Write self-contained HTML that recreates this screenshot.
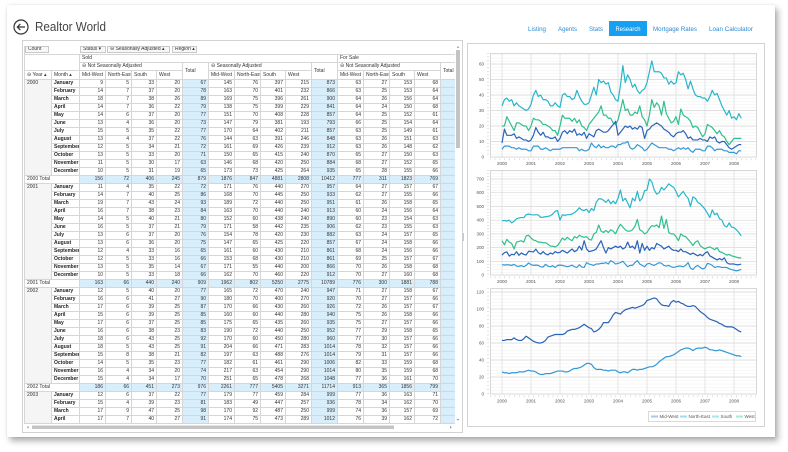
<!DOCTYPE html>
<html><head><meta charset="utf-8">
<style>
html,body{margin:0;padding:0;}
body{width:788px;height:452px;overflow:hidden;background:#fff;position:relative;font-family:"Liberation Sans",Arial,sans-serif;}
#card{position:absolute;left:7px;top:5px;width:768px;height:432px;background:#fff;box-shadow:3px 4px 6px rgba(0,0,0,.32),0 0 2px rgba(0,0,0,.12);}
#svg{position:absolute;left:0;top:0;}
#tbox{position:absolute;left:22px;top:40px;width:439px;height:391px;border:1px solid #d2d2d2;}
#clip{position:absolute;left:24px;top:46px;width:431px;height:378px;overflow:hidden;}
table{border-collapse:separate;border-spacing:0;table-layout:fixed;width:443px;border-left:1px solid #d6d6d6;font-size:5px;color:#333;font-family:"Liberation Sans","DejaVu Sans",sans-serif;}
tr{height:8px;}
td{padding:0 2px 0 1px;border-right:1px solid #d6d6d6;border-bottom:1px solid #d6d6d6;line-height:7px;text-align:right;white-space:nowrap;overflow:hidden;}
col.bc{background:#d9eefb;}
.h1{height:9px;}
.h1 td{background:#fff;border-right:0;}
.hd td{background:#fff;text-align:left;padding-left:2px;}
.hd td.tt{vertical-align:middle;}
.m{text-align:left;font-weight:bold;background:#fff;padding-left:2px;color:#222;}
.y{text-align:left;vertical-align:top;padding-left:2px;}
.T td{background:#d9eefb;}
.T td.tl{background:#fff;text-align:left;padding-left:2px;}
.fb{position:absolute;top:0px;height:7px;box-sizing:border-box;border:1px solid #c8c8c8;background:#f7f7f7;font-size:5px;line-height:5px;padding-left:2px;color:#333;white-space:nowrap;overflow:hidden;font-family:"Liberation Sans","DejaVu Sans",sans-serif;}
</style></head><body>
<div id="card"></div>
<svg id="svg" width="788" height="452" viewBox="0 0 788 452" xmlns="http://www.w3.org/2000/svg" font-family="Liberation Sans, Arial, sans-serif">
<defs>
<pattern id="p1" patternUnits="userSpaceOnUse" x="0" y="157" width="20" height="3.1"><rect width="20" height="0.4" fill="#ececec"/></pattern>
<pattern id="p2" patternUnits="userSpaceOnUse" x="0" y="275" width="20" height="2.742"><rect width="20" height="0.4" fill="#ececec"/></pattern>
<pattern id="p3" patternUnits="userSpaceOnUse" x="0" y="394" width="20" height="3.4"><rect width="20" height="0.4" fill="#ececec"/></pattern>
</defs>
<!-- title -->
<circle cx="21" cy="27" r="7" fill="none" stroke="#333" stroke-width="1.2"/>
<path d="M25 27H17.3M20.4 23.9L17.3 27L20.4 30.1" fill="none" stroke="#333" stroke-width="1.2"/>
<text x="35" y="31" font-size="12.5" fill="#444" textLength="71" lengthAdjust="spacingAndGlyphs">Realtor World</text>
<!-- nav -->
<rect x="609" y="21" width="38" height="15" fill="#17a0f2"/>
<g font-size="6" fill="#2a8ad4">
<text x="528" y="31" textLength="18" lengthAdjust="spacingAndGlyphs">Listing</text>
<text x="558" y="31" textLength="19" lengthAdjust="spacingAndGlyphs">Agents</text>
<text x="589" y="31" textLength="14" lengthAdjust="spacingAndGlyphs">Stats</text>
<text x="615.5" y="31" fill="#fff" textLength="25" lengthAdjust="spacingAndGlyphs">Research</text>
<text x="653" y="31" textLength="44" lengthAdjust="spacingAndGlyphs">Mortgage Rates</text>
<text x="709" y="31" textLength="44" lengthAdjust="spacingAndGlyphs">Loan Calculator</text>
</g>
<!-- right panel -->
<rect x="467.5" y="43.5" width="297" height="383" fill="#fff" stroke="#d2d2d2"/>
<line x1="463.5" y1="233" x2="463.5" y2="241" stroke="#bbb" stroke-width="0.8"/>

<!-- chart 1 -->
<rect x="490" y="53" width="267" height="104" fill="url(#p1)"/>
<g stroke="#d9d9d9" stroke-width="0.7" fill="none">
<path d="M490 141.5H757M490 126H757M490 110.5H757M490 95H757M490 79.5H757M490 64H757"/>
<path d="M502 53V157M531 53V157M560 53V157M589 53V157M618 53V157M647 53V157M676 53V157M705 53V157M734 53V157"/>
</g>
<rect x="490.5" y="53.5" width="266" height="103.5" fill="none" stroke="#cfcfcf" stroke-width="0.8"/>
<path d="M490 159.2H757" stroke="#c4c4c4" stroke-width="2" stroke-dasharray="0.5 4.33"/>
<path d="M488 53V157" stroke="#c4c4c4" stroke-width="2" stroke-dasharray="0.5 3.1"/>
<g font-size="4.5" fill="#555" text-anchor="end">
<text x="484" y="158.5">0</text><text x="484" y="143">10</text><text x="484" y="127.5">20</text><text x="484" y="112">30</text><text x="484" y="96.5">40</text><text x="484" y="81">50</text><text x="484" y="65.5">60</text>
</g>
<g font-size="4.5" fill="#555" text-anchor="middle">
<text x="502" y="165">2000</text><text x="531" y="165">2001</text><text x="560" y="165">2002</text><text x="589" y="165">2003</text><text x="618" y="165">2004</text><text x="647" y="165">2005</text><text x="676" y="165">2006</text><text x="705" y="165">2007</text><text x="734" y="165">2008</text>
</g>
<g transform="translate(502,157) scale(2.4167,-1.55)" fill="none" stroke-width="1.2" stroke-linejoin="round">
<polyline vector-effect="non-scaling-stroke" stroke="#27b6c9" points="0,33 1,37 2,38 3,36 4,37 5,33 6,35 7,33 8,32 9,31 10,30 11,31 12,34 13,40 14,43 15,39 16,40 17,37 18,37 19,36 20,33 21,33 22,35 23,33 24,32 25,40 26,41 27,39 28,39 29,37 30,38 31,43 32,39 33,36 34,34 35,34 36,35 37,40 38,45 39,40 40,50 41,48 42,49 43,47 44,48 45,42 46,40 47,37 48,36 49,46 50,59 51,48 52,53 53,50 54,45 55,47 56,43 57,41 58,43 59,44 60,48 61,55 62,62 63,55 64,55 65,55 66,54 67,51 68,51 69,47 70,49 71,47 72,48 73,55 74,53 75,54 76,50 77,44 78,49 79,44 80,40 81,39 82,39 83,38 84,38 85,36 86,39 87,43 88,40 89,41 90,37 91,33 92,30 93,27 94,30 95,25 96,26 97,24 98,28 99,25"/>
<polyline vector-effect="non-scaling-stroke" stroke="#2fbf8c" points="0,20 1,20 2,26 3,23 4,20 5,17 6,22 7,22 8,21 9,20 10,20 11,17 12,20 13,25 14,24 15,24 16,23 17,21 18,21 19,20 20,19 21,17 22,17 23,14 24,20 25,27 26,25 27,25 28,25 29,23 30,25 31,22 32,24 33,20 34,19 35,17 36,21 37,23 38,25 39,27 40,29 41,33 42,27 43,27 44,25 45,25 46,22 47,21 48,24 49,30 50,37 51,30 52,31 53,27 54,27 55,29 56,28 57,33 58,26 59,24 60,20 61,27 62,37 63,32 64,35 65,33 66,27 67,36 68,28 69,25 70,22 71,23 72,26 73,21 74,31 75,27 76,26 77,25 78,23 79,19 80,20 81,19 82,16 83,13 84,15 85,21 86,20 87,19 88,17 89,15 90,17 91,14 92,13 93,10 94,8 95,10 96,12 97,12 98,12 99,12"/>
<polyline vector-effect="non-scaling-stroke" stroke="#2a64b8" points="0,9 1,18 2,14 3,14 4,14 5,15 6,12 7,13 8,12 9,11 10,11 11,10 12,11 13,14 14,19 15,16 16,14 17,16 18,13 19,13 20,12 21,12 22,13 23,10 24,12 25,16 26,17 27,15 28,17 29,16 30,18 31,14 32,15 33,14 34,16 35,12 36,15 37,14 38,13 39,17 40,18 41,17 42,16 43,16 44,17 45,19 46,21 47,23 48,14 49,16 50,18 51,20 52,19 53,20 54,18 55,19 56,18 57,20 58,19 59,12 60,17 61,18 62,20 63,21 64,22 65,21 66,20 67,18 68,17 69,16 70,14 71,13 72,15 73,16 74,16 75,17 76,15 77,12 78,13 79,11 80,11 81,11 82,12 83,11 84,11 85,10 86,13 87,12 88,13 89,10 90,9 91,10 92,10 93,8 94,6 95,5 96,6 97,7 98,8 99,8"/>
<polyline vector-effect="non-scaling-stroke" stroke="#3399d6" points="0,5 1,7 2,7 3,7 4,6 5,6 6,5 7,6 8,5 9,5 10,5 11,4 12,4 13,7 14,7 15,7 16,5 17,5 18,6 19,5 20,4 21,5 22,5 23,5 24,5 25,6 26,6 27,6 28,6 29,6 30,6 31,6 32,4 33,5 34,4 35,4 36,5 37,9 38,7 39,6 40,8 41,6 42,7 43,6 44,6 45,7 46,7 47,6 48,8 49,8 50,9 51,9 52,10 53,6 54,5 55,6 56,8 57,7 58,6 59,4 60,5 61,7 62,9 63,8 64,7 65,6 66,6 67,6 68,6 69,5 70,5 71,4 72,5 73,6 74,5 75,6 76,5 77,6 78,4 79,3 80,5 81,5 82,5 83,4 84,4 85,7 86,7 87,6 88,4 89,5 90,5 91,5 92,4 93,4 94,3 95,3 96,3 97,2 98,4 99,4"/>
</g>

<!-- chart 2 -->
<rect x="490" y="170" width="267" height="105" fill="url(#p2)"/>
<g stroke="#d9d9d9" stroke-width="0.7" fill="none">
<path d="M490 261.3H757M490 247.6H757M490 233.9H757M490 220.2H757M490 206.5H757M490 192.7H757M490 179H757"/>
<path d="M502 170V275M531 170V275M560 170V275M589 170V275M618 170V275M647 170V275M676 170V275M705 170V275M734 170V275"/>
</g>
<rect x="490.5" y="170.5" width="266" height="104.5" fill="none" stroke="#cfcfcf" stroke-width="0.8"/>
<path d="M490 277.2H757" stroke="#c4c4c4" stroke-width="2" stroke-dasharray="0.5 4.33"/>
<path d="M488 170V275" stroke="#c4c4c4" stroke-width="2" stroke-dasharray="0.5 2.742"/>
<g font-size="4.5" fill="#555" text-anchor="end">
<text x="484" y="276.5">0</text><text x="484" y="262.8">100</text><text x="484" y="249.1">200</text><text x="484" y="235.4">300</text><text x="484" y="221.7">400</text><text x="484" y="208">500</text><text x="484" y="194.2">600</text><text x="484" y="180.5">700</text>
</g>
<g font-size="4.5" fill="#555" text-anchor="middle">
<text x="502" y="283">2000</text><text x="531" y="283">2001</text><text x="560" y="283">2002</text><text x="589" y="283">2003</text><text x="618" y="283">2004</text><text x="647" y="283">2005</text><text x="676" y="283">2006</text><text x="705" y="283">2007</text><text x="734" y="283">2008</text>
</g>
<g transform="translate(502,275) scale(2.4167,-0.1371)" fill="none" stroke-width="1.2" stroke-linejoin="round">
<polyline vector-effect="non-scaling-stroke" stroke="#27b6c9" points="0,395 1,398 2,393 3,400 4,380 5,392 6,410 7,415 8,420 9,418 10,440 11,445 12,440 13,438 14,440 15,438 16,420 17,422 18,425 19,428 20,432 21,445 22,465 23,470 24,400 25,440 26,435 27,440 28,440 29,445 30,455 31,470 32,490 33,475 34,470 35,480 36,455 37,485 38,470 39,530 40,555 41,555 42,545 43,530 44,550 45,520 46,540 47,520 48,560 49,620 50,540 51,560 52,525 53,490 54,560 55,540 56,610 57,540 58,560 59,615 60,620 61,700 62,680 63,620 64,590 65,600 66,640 67,620 68,640 69,665 70,650 71,640 72,610 73,570 74,590 75,610 76,580 77,560 78,500 79,570 80,560 81,530 82,520 83,500 84,480 85,450 86,420 87,475 88,440 89,450 90,410 91,400 92,360 93,350 94,380 95,350 96,345 97,330 98,310 99,285"/>
<polyline vector-effect="non-scaling-stroke" stroke="#2fbf8c" points="0,250 1,220 2,260 3,240 4,230 5,190 6,240 7,245 8,250 9,240 10,285 11,290 12,270 13,255 14,250 15,240 16,240 17,235 18,235 19,225 20,210 21,210 22,205 23,215 24,240 25,270 26,255 27,275 28,260 29,250 30,280 31,270 32,290 33,280 34,275 35,280 36,260 37,255 38,300 39,310 40,365 41,320 42,310 43,325 44,310 45,330 46,320 47,300 48,340 49,370 50,350 51,330 52,320 53,320 54,330 55,355 56,405 57,330 58,320 59,300 60,310 61,340 62,360 63,355 64,365 65,345 66,430 67,340 68,405 69,310 70,300 71,300 72,280 73,250 74,300 75,285 76,280 77,260 78,240 79,215 80,240 81,250 82,215 83,200 84,190 85,200 86,205 87,195 88,185 89,200 90,170 91,165 92,155 93,145 94,150 95,140 96,135 97,130 98,125 99,125"/>
<polyline vector-effect="non-scaling-stroke" stroke="#2a64b8" points="0,145 1,163 2,169 3,138 4,151 5,147 6,170 7,144 8,161 9,150 10,146 11,173 12,171 13,168 14,189 15,163 16,152 17,171 18,154 19,147 20,161 21,153 22,171 23,162 24,165 25,180 26,170 27,160 28,175 29,190 30,170 31,180 32,210 33,182 34,250 35,190 36,170 37,175 38,180 39,190 40,220 41,250 42,200 43,160 44,200 45,190 46,200 47,210 48,200 49,210 50,190 51,200 52,240 53,200 54,210 55,190 56,250 57,160 58,230 59,180 60,210 61,180 62,200 63,190 64,230 65,220 66,210 67,190 68,200 69,210 70,190 71,180 72,180 73,170 74,190 75,170 76,170 77,160 78,150 79,160 80,150 81,140 82,150 83,140 84,160 85,170 86,140 87,130 88,120 89,110 90,120 91,110 92,125 93,90 94,80 95,80 96,80 97,75 98,75 99,80"/>
<polyline vector-effect="non-scaling-stroke" stroke="#3399d6" points="0,75 1,72 2,75 3,73 4,70 5,78 6,65 7,63 8,69 9,60 10,70 11,88 12,76 13,70 14,72 15,70 16,60 17,58 18,78 19,65 20,60 21,68 22,55 23,70 24,72 25,70 26,66 27,60 28,65 29,72 30,60 31,55 32,75 33,58 34,55 35,90 36,80 37,75 38,70 39,80 40,80 41,85 42,85 43,90 44,80 45,105 46,95 47,80 48,85 49,90 50,100 51,80 52,60 53,70 54,70 55,90 56,105 57,80 58,70 59,60 60,80 61,85 62,75 63,70 64,80 65,90 66,85 67,70 68,65 69,70 70,60 71,55 72,60 73,65 74,65 75,60 76,70 77,90 78,50 79,40 80,60 81,70 82,55 83,45 84,50 85,85 86,80 87,70 88,55 89,60 90,60 91,55 92,55 93,55 94,45 95,40 96,35 97,30 98,35 99,40"/>
</g>

<!-- chart 3 -->
<rect x="490" y="288" width="267" height="106" fill="url(#p3)"/>
<g stroke="#d9d9d9" stroke-width="0.7" fill="none">
<path d="M490 377H757M490 360H757M490 343H757M490 326H757M490 309H757M490 292H757"/>
<path d="M502 288V394M531 288V394M560 288V394M589 288V394M618 288V394M647 288V394M676 288V394M705 288V394M734 288V394"/>
</g>
<rect x="490.5" y="288.5" width="266" height="105.5" fill="none" stroke="#cfcfcf" stroke-width="0.8"/>
<path d="M490 396.2H757" stroke="#c4c4c4" stroke-width="2" stroke-dasharray="0.5 4.33"/>
<path d="M488 288V394" stroke="#c4c4c4" stroke-width="2" stroke-dasharray="0.5 3.4"/>
<g font-size="4.5" fill="#555" text-anchor="end">
<text x="484" y="395.5">0</text><text x="484" y="378.5">20</text><text x="484" y="361.5">40</text><text x="484" y="344.5">60</text><text x="484" y="327.5">80</text><text x="484" y="310.5">100</text><text x="484" y="293.5">120</text>
</g>
<g font-size="4.5" fill="#555" text-anchor="middle">
<text x="502" y="402.5">2000</text><text x="531" y="402.5">2001</text><text x="560" y="402.5">2002</text><text x="589" y="402.5">2003</text><text x="618" y="402.5">2004</text><text x="647" y="402.5">2005</text><text x="676" y="402.5">2006</text><text x="705" y="402.5">2007</text><text x="734" y="402.5">2008</text>
</g>
<g transform="translate(502,394) scale(2.4167,-0.85)" fill="none" stroke-width="1.2" stroke-linejoin="round">
<polyline vector-effect="non-scaling-stroke" stroke="#2a64b8" points="0,63 1,63 2,64 3,64 4,64 5,66 6,64 7,63 8,63 9,65 10,68 11,66 12,64 13,62 14,61 15,60 16,60 17,61 18,63 19,67 20,68 21,69 22,70 23,70 24,70 25,70 26,71 27,74 28,75 29,76 30,76 31,77 32,78 33,80 34,82 35,80 36,78 37,77 38,73 39,74 40,76 41,79 42,84 43,84 44,84 45,88 46,93 47,96 48,95 49,94 50,97 51,99 52,100 53,101 54,102 55,101 56,102 57,103 58,104 59,106 60,110 61,111 62,112 63,113 64,112 65,108 66,105 67,104 68,104 69,103 70,108 71,110 72,108 73,109 74,107 75,106 76,104 77,103 78,103 79,104 80,103 81,100 82,97 83,95 84,93 85,90 86,88 87,87 88,86 89,85 90,83 91,82 92,80 93,79 94,79 95,79 96,78 97,76 98,74 99,73"/>
<polyline vector-effect="non-scaling-stroke" stroke="#3399d6" points="0,26 1,25 2,25 3,24 4,25 5,25 6,25 7,26 8,26 9,26 10,27 11,28 12,27 13,27 14,26 15,24 16,23 17,23 18,24 19,24 20,24 21,25 22,26 23,27 24,27 25,27 26,26 27,26 28,27 29,29 30,30 31,30 32,31 33,32 34,34 35,36 36,36 37,35 38,31 39,29 40,29 41,29 42,28 43,28 44,27 45,28 46,28 47,28 48,26 49,25 50,26 51,26 52,25 53,27 54,29 55,29 56,28 57,29 58,29 59,30 60,31 61,32 62,32 63,33 64,35 65,38 66,40 67,42 68,44 69,44 70,45 71,46 72,48 73,50 74,52 75,53 76,54 77,54 78,53 79,51 80,53 81,54 82,54 83,54 84,55 85,54 86,52 87,52 88,51 89,51 90,52 91,51 92,50 93,49 94,48 95,47 96,46 97,45 98,45 99,44"/>
</g>
<!-- legend -->
<rect x="648.5" y="411.5" width="107" height="10" fill="#fff" stroke="#d0d0d0" stroke-width="0.8"/>
<g stroke-width="2">
<line x1="651" y1="416.5" x2="658" y2="416.5" stroke="#a9c7ea"/>
<line x1="680" y1="416.5" x2="687" y2="416.5" stroke="#a8d8f0"/>
<line x1="712" y1="416.5" x2="719" y2="416.5" stroke="#a8e6ee"/>
<line x1="736" y1="416.5" x2="743" y2="416.5" stroke="#a9e8d2"/>
</g>
<g font-size="4.5" fill="#555">
<text x="659.5" y="418.2">Mid-West</text>
<text x="688.5" y="418.2">North-East</text>
<text x="720.5" y="418.2">South</text>
<text x="744.5" y="418.2">West</text>
</g>
<!-- scrollbars -->
<rect x="456" y="50" width="4" height="98" fill="#c4c4c4"/>
<path d="M456.6 47.8L458 46L459.4 47.8Z" fill="#999"/>
<path d="M456.6 419L458 420.8L459.4 419Z" fill="#999"/>
<rect x="32" y="425.5" width="362" height="3.5" fill="#c4c4c4"/>
<path d="M28.5 425.7L26.8 427.2L28.5 428.7Z" fill="#999"/>
<path d="M450 425.7L451.7 427.2L450 428.7Z" fill="#999"/>
</svg>

<div id="tbox"></div>
<div id="clip">
<table>
<colgroup>
<col style="width:27px;background:#f5f5f5"><col style="width:28px">
<col style="width:26px"><col style="width:26px"><col style="width:25px"><col style="width:26px"><col class="bc" style="width:26px">
<col style="width:26px"><col style="width:26px"><col style="width:25px"><col style="width:26px"><col class="bc" style="width:26px">
<col style="width:26px"><col style="width:26px"><col style="width:25px"><col style="width:26px"><col class="bc" style="width:26px">
</colgroup>
<tr class="h1"><td colspan="17"></td></tr>
<tr class="hd"><td colspan="2" rowspan="2"></td><td colspan="10">Sold</td><td colspan="5">For Sale</td></tr>
<tr class="hd"><td colspan="4">⊖ Not Seasonally Adjusted</td><td rowspan="2" class="tt">Total</td><td colspan="4">⊖ Seasonally Adjusted</td><td rowspan="2" class="tt">Total</td><td colspan="4">⊖ Not Seasonally Adjusted</td><td rowspan="2" class="tt">Total</td></tr>
<tr class="hd" style="height:9px"><td>⊖ Year ▴</td><td>Month ▴</td><td>Mid-West</td><td>North-East</td><td>South</td><td>West</td><td>Mid-West</td><td>North-East</td><td>South</td><td>West</td><td>Mid-West</td><td>North-East</td><td>South</td><td>West</td></tr>

<tr><td class="y" rowspan="12">2000</td><td class="m">January</td><td>9</td><td>5</td><td>33</td><td>20</td><td>67</td><td>145</td><td>76</td><td>397</td><td>215</td><td>873</td><td>63</td><td>27</td><td>153</td><td>68</td><td></td></tr>
<tr><td class="m">February</td><td>14</td><td>7</td><td>37</td><td>20</td><td>78</td><td>163</td><td>70</td><td>401</td><td>232</td><td>866</td><td>63</td><td>25</td><td>153</td><td>64</td><td></td></tr>
<tr><td class="m">March</td><td>18</td><td>7</td><td>38</td><td>26</td><td>89</td><td>169</td><td>75</td><td>396</td><td>261</td><td>900</td><td>64</td><td>26</td><td>156</td><td>64</td><td></td></tr>
<tr><td class="m">April</td><td>14</td><td>7</td><td>36</td><td>22</td><td>79</td><td>138</td><td>75</td><td>399</td><td>229</td><td>841</td><td>64</td><td>24</td><td>150</td><td>68</td><td></td></tr>
<tr><td class="m">May</td><td>14</td><td>6</td><td>37</td><td>20</td><td>77</td><td>151</td><td>70</td><td>408</td><td>228</td><td>857</td><td>64</td><td>25</td><td>152</td><td>61</td><td></td></tr>
<tr><td class="m">June</td><td>13</td><td>4</td><td>36</td><td>20</td><td>73</td><td>147</td><td>79</td><td>381</td><td>193</td><td>793</td><td>66</td><td>25</td><td>154</td><td>64</td><td></td></tr>
<tr><td class="m">July</td><td>15</td><td>5</td><td>35</td><td>22</td><td>77</td><td>170</td><td>64</td><td>402</td><td>211</td><td>857</td><td>63</td><td>25</td><td>149</td><td>61</td><td></td></tr>
<tr><td class="m">August</td><td>13</td><td>4</td><td>37</td><td>22</td><td>76</td><td>144</td><td>63</td><td>391</td><td>246</td><td>848</td><td>63</td><td>26</td><td>151</td><td>63</td><td></td></tr>
<tr><td class="m">September</td><td>12</td><td>5</td><td>34</td><td>21</td><td>72</td><td>161</td><td>69</td><td>426</td><td>239</td><td>912</td><td>63</td><td>26</td><td>148</td><td>62</td><td></td></tr>
<tr><td class="m">October</td><td>13</td><td>5</td><td>33</td><td>20</td><td>71</td><td>150</td><td>65</td><td>415</td><td>240</td><td>870</td><td>65</td><td>27</td><td>150</td><td>63</td><td></td></tr>
<tr><td class="m">November</td><td>11</td><td>5</td><td>30</td><td>17</td><td>63</td><td>146</td><td>68</td><td>420</td><td>250</td><td>884</td><td>68</td><td>27</td><td>152</td><td>65</td><td></td></tr>
<tr><td class="m">December</td><td>10</td><td>5</td><td>31</td><td>19</td><td>65</td><td>173</td><td>73</td><td>425</td><td>264</td><td>935</td><td>65</td><td>28</td><td>155</td><td>66</td><td></td></tr>
<tr class="T"><td class="tl" colspan="2">2000 Total</td><td>156</td><td>72</td><td>406</td><td>245</td><td>879</td><td>1876</td><td>847</td><td>4881</td><td>2808</td><td>10412</td><td>777</td><td>311</td><td>1823</td><td>769</td><td></td></tr>

<tr><td class="y" rowspan="12">2001</td><td class="m">January</td><td>11</td><td>4</td><td>35</td><td>22</td><td>72</td><td>171</td><td>76</td><td>440</td><td>270</td><td>957</td><td>64</td><td>27</td><td>157</td><td>67</td><td></td></tr>
<tr><td class="m">February</td><td>14</td><td>7</td><td>40</td><td>25</td><td>86</td><td>168</td><td>70</td><td>445</td><td>250</td><td>933</td><td>62</td><td>27</td><td>155</td><td>66</td><td></td></tr>
<tr><td class="m">March</td><td>19</td><td>7</td><td>43</td><td>24</td><td>93</td><td>189</td><td>72</td><td>440</td><td>250</td><td>951</td><td>61</td><td>26</td><td>158</td><td>65</td><td></td></tr>
<tr><td class="m">April</td><td>16</td><td>7</td><td>38</td><td>23</td><td>84</td><td>163</td><td>70</td><td>440</td><td>240</td><td>913</td><td>60</td><td>24</td><td>156</td><td>64</td><td></td></tr>
<tr><td class="m">May</td><td>14</td><td>5</td><td>40</td><td>21</td><td>80</td><td>152</td><td>60</td><td>438</td><td>240</td><td>890</td><td>60</td><td>23</td><td>154</td><td>63</td><td></td></tr>
<tr><td class="m">June</td><td>16</td><td>5</td><td>37</td><td>21</td><td>79</td><td>171</td><td>58</td><td>442</td><td>235</td><td>906</td><td>62</td><td>23</td><td>155</td><td>63</td><td></td></tr>
<tr><td class="m">July</td><td>13</td><td>6</td><td>37</td><td>20</td><td>76</td><td>154</td><td>78</td><td>420</td><td>230</td><td>882</td><td>63</td><td>24</td><td>157</td><td>65</td><td></td></tr>
<tr><td class="m">August</td><td>13</td><td>6</td><td>36</td><td>20</td><td>75</td><td>147</td><td>65</td><td>425</td><td>220</td><td>857</td><td>67</td><td>24</td><td>158</td><td>66</td><td></td></tr>
<tr><td class="m">September</td><td>12</td><td>4</td><td>33</td><td>16</td><td>65</td><td>161</td><td>60</td><td>430</td><td>210</td><td>861</td><td>68</td><td>24</td><td>156</td><td>66</td><td></td></tr>
<tr><td class="m">October</td><td>12</td><td>5</td><td>33</td><td>16</td><td>66</td><td>153</td><td>68</td><td>430</td><td>210</td><td>861</td><td>69</td><td>25</td><td>157</td><td>67</td><td></td></tr>
<tr><td class="m">November</td><td>13</td><td>5</td><td>35</td><td>14</td><td>67</td><td>171</td><td>55</td><td>440</td><td>200</td><td>866</td><td>70</td><td>26</td><td>158</td><td>68</td><td></td></tr>
<tr><td class="m">December</td><td>10</td><td>5</td><td>33</td><td>18</td><td>66</td><td>162</td><td>70</td><td>460</td><td>220</td><td>912</td><td>70</td><td>27</td><td>160</td><td>68</td><td></td></tr>
<tr class="T"><td class="tl" colspan="2">2001 Total</td><td>163</td><td>66</td><td>440</td><td>240</td><td>909</td><td>1962</td><td>802</td><td>5250</td><td>2775</td><td>10789</td><td>776</td><td>300</td><td>1881</td><td>788</td><td></td></tr>

<tr><td class="y" rowspan="12">2002</td><td class="m">January</td><td>12</td><td>5</td><td>40</td><td>20</td><td>77</td><td>165</td><td>72</td><td>470</td><td>240</td><td>947</td><td>71</td><td>27</td><td>158</td><td>67</td><td></td></tr>
<tr><td class="m">February</td><td>16</td><td>6</td><td>41</td><td>27</td><td>90</td><td>180</td><td>70</td><td>400</td><td>270</td><td>920</td><td>70</td><td>27</td><td>157</td><td>66</td><td></td></tr>
<tr><td class="m">March</td><td>17</td><td>6</td><td>39</td><td>25</td><td>87</td><td>170</td><td>66</td><td>430</td><td>260</td><td>926</td><td>72</td><td>26</td><td>157</td><td>67</td><td></td></tr>
<tr><td class="m">April</td><td>15</td><td>6</td><td>39</td><td>25</td><td>85</td><td>160</td><td>60</td><td>440</td><td>280</td><td>940</td><td>75</td><td>26</td><td>158</td><td>66</td><td></td></tr>
<tr><td class="m">May</td><td>17</td><td>6</td><td>37</td><td>25</td><td>85</td><td>175</td><td>65</td><td>435</td><td>260</td><td>935</td><td>75</td><td>27</td><td>157</td><td>66</td><td></td></tr>
<tr><td class="m">June</td><td>16</td><td>6</td><td>38</td><td>23</td><td>83</td><td>190</td><td>72</td><td>440</td><td>250</td><td>952</td><td>77</td><td>29</td><td>158</td><td>65</td><td></td></tr>
<tr><td class="m">July</td><td>18</td><td>6</td><td>43</td><td>25</td><td>92</td><td>170</td><td>60</td><td>450</td><td>280</td><td>960</td><td>77</td><td>30</td><td>157</td><td>66</td><td></td></tr>
<tr><td class="m">August</td><td>18</td><td>5</td><td>43</td><td>25</td><td>91</td><td>204</td><td>66</td><td>471</td><td>283</td><td>1014</td><td>78</td><td>32</td><td>157</td><td>66</td><td></td></tr>
<tr><td class="m">September</td><td>15</td><td>8</td><td>38</td><td>21</td><td>82</td><td>197</td><td>63</td><td>488</td><td>276</td><td>1014</td><td>79</td><td>31</td><td>157</td><td>66</td><td></td></tr>
<tr><td class="m">October</td><td>14</td><td>5</td><td>35</td><td>23</td><td>77</td><td>182</td><td>61</td><td>461</td><td>290</td><td>1006</td><td>82</td><td>33</td><td>159</td><td>68</td><td></td></tr>
<tr><td class="m">November</td><td>16</td><td>4</td><td>34</td><td>20</td><td>74</td><td>217</td><td>63</td><td>454</td><td>290</td><td>1014</td><td>80</td><td>35</td><td>159</td><td>68</td><td></td></tr>
<tr><td class="m">December</td><td>15</td><td>4</td><td>34</td><td>17</td><td>70</td><td>251</td><td>65</td><td>478</td><td>268</td><td>1048</td><td>77</td><td>36</td><td>161</td><td>70</td><td></td></tr>
<tr class="T"><td class="tl" colspan="2">2002 Total</td><td>186</td><td>66</td><td>451</td><td>273</td><td>976</td><td>2261</td><td>777</td><td>5405</td><td>3271</td><td>11714</td><td>913</td><td>365</td><td>1856</td><td>799</td><td></td></tr>

<tr><td class="y" rowspan="4">2003</td><td class="m">January</td><td>12</td><td>6</td><td>37</td><td>22</td><td>77</td><td>179</td><td>77</td><td>459</td><td>284</td><td>999</td><td>77</td><td>36</td><td>163</td><td>71</td><td></td></tr>
<tr><td class="m">February</td><td>15</td><td>4</td><td>39</td><td>23</td><td>81</td><td>183</td><td>49</td><td>447</td><td>257</td><td>936</td><td>78</td><td>34</td><td>162</td><td>70</td><td></td></tr>
<tr><td class="m">March</td><td>17</td><td>9</td><td>47</td><td>25</td><td>98</td><td>170</td><td>92</td><td>487</td><td>250</td><td>999</td><td>74</td><td>36</td><td>157</td><td>69</td><td></td></tr>
<tr><td class="m">April</td><td>17</td><td>7</td><td>40</td><td>27</td><td>91</td><td>174</td><td>75</td><td>473</td><td>289</td><td>1012</td><td>76</td><td>39</td><td>162</td><td>72</td><td></td></tr>
</table>
<div class="fb" style="left:1px;width:24px;">Count</div>
<div class="fb" style="left:56px;width:26px;">Status ▾</div>
<div class="fb" style="left:83px;width:63px;">⊖ Seasonally Adjusted ▴</div>
<div class="fb" style="left:148px;width:25px;">Region ▴</div>
</div>
</body></html>
